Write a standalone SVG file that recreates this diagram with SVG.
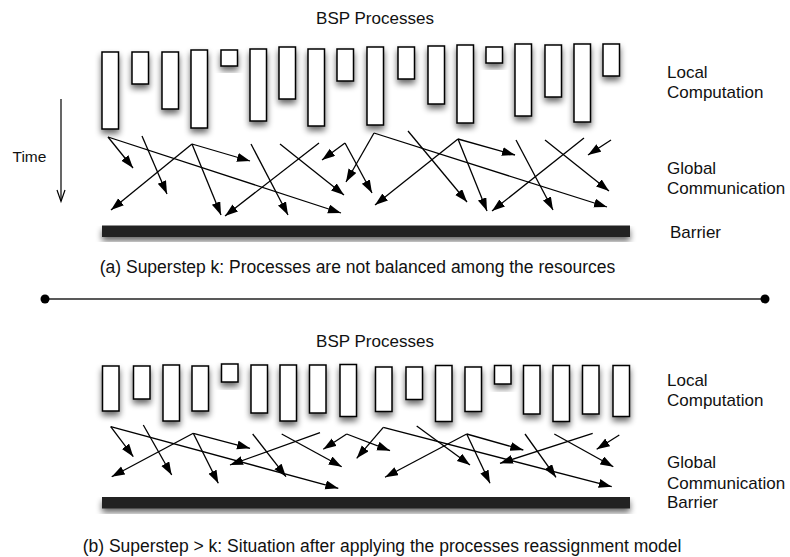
<svg xmlns="http://www.w3.org/2000/svg" width="790" height="557" viewBox="0 0 790 557">
  <defs>
    <style>
      .bar { fill: #ffffff; stroke: #000000; stroke-width: 1.5; filter: url(#shadow); }
      .barrier { fill: #222222; filter: url(#shadow); }
      .lbl { font-family: "Liberation Sans", Arial, Helvetica, sans-serif; font-size: 17px; fill: #111111; }
      .cap { font-family: "Liberation Sans", Arial, Helvetica, sans-serif; font-size: 17.5px; fill: #111111; }
      .time { font-family: "Liberation Sans", Arial, Helvetica, sans-serif; font-size: 15.5px; fill: #111111; }
      .conn path { fill: none; stroke: #000000; stroke-width: 1.3; marker-end: url(#head); }
    </style>
    <filter id="shadow" x="-60%" y="-30%" width="220%" height="170%">
      <feGaussianBlur in="SourceAlpha" stdDeviation="3.2"/>
      <feOffset dx="0" dy="4" result="blur"/>
      <feComponentTransfer>
        <feFuncA type="linear" slope="0.6"/>
      </feComponentTransfer>
      <feMerge>
        <feMergeNode/>
        <feMergeNode in="SourceGraphic"/>
      </feMerge>
    </filter>
    <marker id="head" markerUnits="userSpaceOnUse" markerWidth="14" markerHeight="10" refX="13" refY="4.5" orient="auto">
      <path d="M0,0 L13,4.5 L0,9 z" fill="#000000"/>
    </marker>
  </defs>

  <rect width="790" height="557" fill="#ffffff"/>

  <!-- Superstep k -->
  <g id="title-a"><text class="lbl" x="375" y="24" text-anchor="middle">BSP Processes</text></g>

  <g id="procs-a">
    <g id="pa1"><rect class="bar" x="102" y="52" width="16.5" height="77"/></g>
    <g id="pa2"><rect class="bar" x="132" y="52" width="16.5" height="32"/></g>
    <g id="pa3"><rect class="bar" x="162" y="52" width="16.5" height="57"/></g>
    <g id="pa4"><rect class="bar" x="191" y="50" width="16.5" height="78"/></g>
    <g id="pa5"><rect class="bar" x="221" y="50" width="16.5" height="16"/></g>
    <g id="pa6"><rect class="bar" x="250" y="49" width="16.5" height="72"/></g>
    <g id="pa7"><rect class="bar" x="279" y="47" width="16.5" height="52"/></g>
    <g id="pa8"><rect class="bar" x="308" y="49" width="16.5" height="77"/></g>
    <g id="pa9"><rect class="bar" x="337" y="49" width="16.5" height="32"/></g>
    <g id="pa10"><rect class="bar" x="367" y="47" width="16.5" height="78"/></g>
    <g id="pa11"><rect class="bar" x="398" y="47" width="16.5" height="32"/></g>
    <g id="pa12"><rect class="bar" x="428" y="46" width="16.5" height="58"/></g>
    <g id="pa13"><rect class="bar" x="457" y="45" width="16.5" height="78"/></g>
    <g id="pa14"><rect class="bar" x="486" y="47" width="16.5" height="16"/></g>
    <g id="pa15"><rect class="bar" x="515" y="44" width="16.5" height="72"/></g>
    <g id="pa16"><rect class="bar" x="545" y="45" width="16.5" height="52"/></g>
    <g id="pa17"><rect class="bar" x="574" y="44" width="16.5" height="78"/></g>
    <g id="pa18"><rect class="bar" x="603" y="44" width="16.5" height="32"/></g>
  </g>

  <g id="barrier-a"><rect class="barrier" x="102" y="225.5" width="528" height="11.5"/></g>

  <g id="time-axis">
    <text class="time" x="12.5" y="161.5">Time</text>
    <path d="M61,99 V201" fill="none" stroke="#000000" stroke-width="1.2"/>
    <path d="M57,190 L61,201.5 L65,190" fill="none" stroke="#000000" stroke-width="1.2"/>
  </g>

  <g id="labels-a">
    <text class="lbl" x="667" y="77.5">Local</text>
    <text class="lbl" x="667" y="97.5">Computation</text>
    <text class="lbl" x="667" y="174">Global</text>
    <text class="lbl" x="667" y="194">Communication</text>
    <text class="lbl" x="670" y="238">Barrier</text>
  </g>

  <g id="caption-a"><text class="cap" x="357.5" y="272.5" text-anchor="middle">(a) Superstep k: Processes are not balanced among the resources</text></g>

  <g id="messages-a" class="conn">
    <path d="M108,137 L133,168"/>
    <path d="M108,137 L341,213"/>
    <path d="M142,136 L167,194"/>
    <path d="M192,144 L111,210"/>
    <path d="M192,144 L250,161"/>
    <path d="M192,144 L221,215"/>
    <path d="M251,144 L288,215"/>
    <path d="M280,144 L344,195"/>
    <path d="M319,143 L225,216"/>
    <path d="M345,143 L322,160"/>
    <path d="M345,143 L372,193"/>
    <path d="M374,133 L346,182"/>
    <path d="M374,133 L607,207"/>
    <path d="M408,131 L467,202"/>
    <path d="M458,139 L375,205"/>
    <path d="M458,139 L515,155"/>
    <path d="M458,139 L487,211"/>
    <path d="M516,140 L553,210"/>
    <path d="M545,140 L609,191"/>
    <path d="M584,138 L492,211"/>
    <path d="M611,140 L588,155"/>
  </g>

  <!-- divider -->
  <g id="divider">
    <path d="M45,299 H765" stroke="#222222" stroke-width="1.6"/>
    <circle cx="45" cy="299" r="4.5" fill="#000000"/>
    <circle cx="765" cy="299" r="4.5" fill="#000000"/>
  </g>

  <!-- Superstep > k -->
  <g id="title-b"><text class="lbl" x="375" y="347" text-anchor="middle">BSP Processes</text></g>

  <g id="procs-b">
    <g id="pb1"><rect class="bar" x="102.5" y="366" width="16.5" height="45"/></g>
    <g id="pb2"><rect class="bar" x="133.5" y="366" width="16.5" height="33"/></g>
    <g id="pb3"><rect class="bar" x="163" y="365" width="16.5" height="56"/></g>
    <g id="pb4"><rect class="bar" x="192" y="366" width="16.5" height="45"/></g>
    <g id="pb5"><rect class="bar" x="221.5" y="364" width="16.5" height="18"/></g>
    <g id="pb6"><rect class="bar" x="251" y="365" width="16.5" height="48"/></g>
    <g id="pb7"><rect class="bar" x="280" y="365" width="16.5" height="56"/></g>
    <g id="pb8"><rect class="bar" x="309.5" y="365" width="16.5" height="48"/></g>
    <g id="pb9"><rect class="bar" x="340" y="364.5" width="16.5" height="52"/></g>
    <g id="pb10"><rect class="bar" x="375.5" y="367" width="16.5" height="44.5"/></g>
    <g id="pb11"><rect class="bar" x="406" y="367" width="16.5" height="32.5"/></g>
    <g id="pb12"><rect class="bar" x="435.5" y="365.5" width="16.5" height="56"/></g>
    <g id="pb13"><rect class="bar" x="465" y="367" width="16.5" height="44.5"/></g>
    <g id="pb14"><rect class="bar" x="494.5" y="365.5" width="16.5" height="18.5"/></g>
    <g id="pb15"><rect class="bar" x="523.5" y="365.5" width="16.5" height="48.5"/></g>
    <g id="pb16"><rect class="bar" x="553" y="365.5" width="16.5" height="56"/></g>
    <g id="pb17"><rect class="bar" x="582.5" y="365.5" width="16.5" height="48.5"/></g>
    <g id="pb18"><rect class="bar" x="613" y="365.5" width="16.5" height="51"/></g>
  </g>

  <g id="barrier-b"><rect class="barrier" x="102" y="497" width="528" height="11.5"/></g>

  <g id="labels-b">
    <text class="lbl" x="667" y="386">Local</text>
    <text class="lbl" x="667" y="406">Computation</text>
    <text class="lbl" x="667" y="468">Global</text>
    <text class="lbl" x="667" y="489">Communication</text>
    <text class="lbl" x="667" y="507.5">Barrier</text>
  </g>

  <g id="caption-b"><text class="cap" x="382" y="552" text-anchor="middle">(b) Superstep &gt; k: Situation after applying the processes reassignment model</text></g>

  <g id="messages-b" class="conn">
    <path d="M110.7,426.7 L133.3,456.7"/>
    <path d="M110.7,426.7 L338.3,488.3"/>
    <path d="M143.3,425 L171.7,475"/>
    <path d="M193.3,433.3 L111.7,476.7"/>
    <path d="M193.3,433.3 L250,448.3"/>
    <path d="M193.3,433.3 L218.3,483.3"/>
    <path d="M252.7,434 L286,476.7"/>
    <path d="M281.7,434 L341.7,466.7"/>
    <path d="M320,432.7 L230,465"/>
    <path d="M346.7,434 L323.3,449.3"/>
    <path d="M346.7,434 L390,450.7"/>
    <path d="M383.3,427.3 L356.7,458.3"/>
    <path d="M383.3,427.3 L611.7,486.7"/>
    <path d="M416.7,426 L470,465"/>
    <path d="M466.7,434 L385,477.3"/>
    <path d="M466.7,434 L523.3,450"/>
    <path d="M466.7,434 L490,483.3"/>
    <path d="M525,434 L556,477.3"/>
    <path d="M554.3,434 L613.3,466.7"/>
    <path d="M592.7,433.3 L500,463.3"/>
    <path d="M619.3,435 L596.7,449.3"/>
  </g>
</svg>
